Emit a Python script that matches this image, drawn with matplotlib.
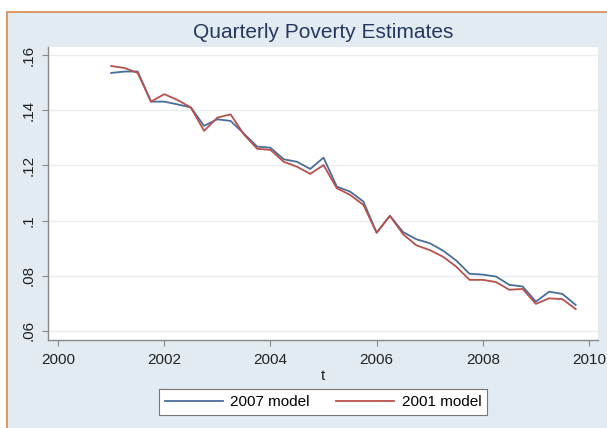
import matplotlib
matplotlib.use('Agg')
import matplotlib.pyplot as plt
from matplotlib.patches import Rectangle

plt.rcParams['font.family'] = ['Liberation Sans', 'DejaVu Sans']

# quarters 2001q1 .. 2009q4
t = [2001.0, 2001.25, 2001.5, 2001.75, 2002.0, 2002.25, 2002.5, 2002.75,
     2003.0, 2003.25, 2003.5, 2003.75, 2004.0, 2004.25, 2004.5, 2004.75,
     2005.0, 2005.25, 2005.5, 2005.75, 2006.0, 2006.25, 2006.5, 2006.75,
     2007.0, 2007.25, 2007.5, 2007.75, 2008.0, 2008.25, 2008.5, 2008.75,
     2009.0, 2009.25, 2009.5, 2009.75]

# poverty estimate, 2007 model
model2007 = [0.1535, 0.1540, 0.1540, 0.1431, 0.1431, 0.1421, 0.1410, 0.1343,
             0.1367, 0.1361, 0.1315, 0.1268, 0.1264, 0.1222, 0.1213, 0.1187,
             0.1228, 0.1123, 0.1105, 0.1069, 0.0956, 0.1017, 0.0958, 0.0932,
             0.0918, 0.0891, 0.0855, 0.0807, 0.0804, 0.0797, 0.0767, 0.0761,
             0.0706, 0.0742, 0.0734, 0.0694]

# poverty estimate, 2001 model
model2001 = [0.1560, 0.1553, 0.1535, 0.1431, 0.1458, 0.1437, 0.1410, 0.1325,
             0.1373, 0.1385, 0.1312, 0.1260, 0.1256, 0.1213, 0.1195, 0.1169,
             0.1201, 0.1117, 0.1093, 0.1057, 0.0956, 0.1017, 0.0950, 0.0910,
             0.0893, 0.0869, 0.0833, 0.0785, 0.0785, 0.0777, 0.0749, 0.0752,
             0.0698, 0.0718, 0.0715, 0.0679]

xticks = [2000, 2002, 2004, 2006, 2008, 2010]
yticks = [0.06, 0.08, 0.10, 0.12, 0.14, 0.16]
ylabels = ['.06', '.08', '.1', '.12', '.14', '.16']

W, H = 607, 428
fig = plt.figure(figsize=(W / 100, H / 100), dpi=100)
fig.patch.set_facecolor('white')

# light blue graph region with the orange page border on top/left
bg = Rectangle((7 / W, -0.05), 1.1, (H - 12) / H + 0.05, transform=fig.transFigure,
               facecolor='#e2ebf1', edgecolor='#d98c45', linewidth=1.2, zorder=-10)
fig.patches.append(bg)

ax = fig.add_axes([48 / W, (H - 340) / H, 550 / W, 293 / H])
ax.set_facecolor('white')

p1, = ax.plot(t, model2007, color='#4a6d9c', lw=1.3)
p2, = ax.plot(t, model2001, color='#b8504c', lw=1.3)

ax.set_xlim(1999.81, 2010.17)
ax.set_ylim(0.0567, 0.1629)
ax.set_xticks(xticks)
ax.set_yticks(yticks)
ax.set_yticklabels(ylabels, rotation=90, va='center')
ax.tick_params(axis='both', direction='out', length=4, width=0.8, color='#888888',
               labelsize=11, labelcolor='#222222', pad=5)
ax.grid(axis='y', color='#e9edf0', lw=1)
ax.set_axisbelow(True)

for s in ['top', 'right']:
    ax.spines[s].set_visible(False)
for s in ['left', 'bottom']:
    ax.spines[s].set_color('#888888')
    ax.spines[s].set_linewidth(1)

ax.set_xlabel('t', fontsize=11, color='#222222', labelpad=2)
fig.text(323 / W, (H - 32) / H, 'Quarterly Poverty Estimates', ha='center', va='center',
         fontsize=15, color='#26385f')

leg = ax.legend([p1, p2], ['2007 model', '2001 model'], ncol=2, loc='center',
                bbox_to_anchor=(323 / W, 26 / H), bbox_transform=fig.transFigure,
                fontsize=11, handlelength=3.8, handletextpad=0.5, columnspacing=1.7,
                borderpad=0.4, fancybox=False, framealpha=1, edgecolor='#777777')
leg.get_frame().set_linewidth(0.8)

fig.savefig('out.png', dpi=100)
